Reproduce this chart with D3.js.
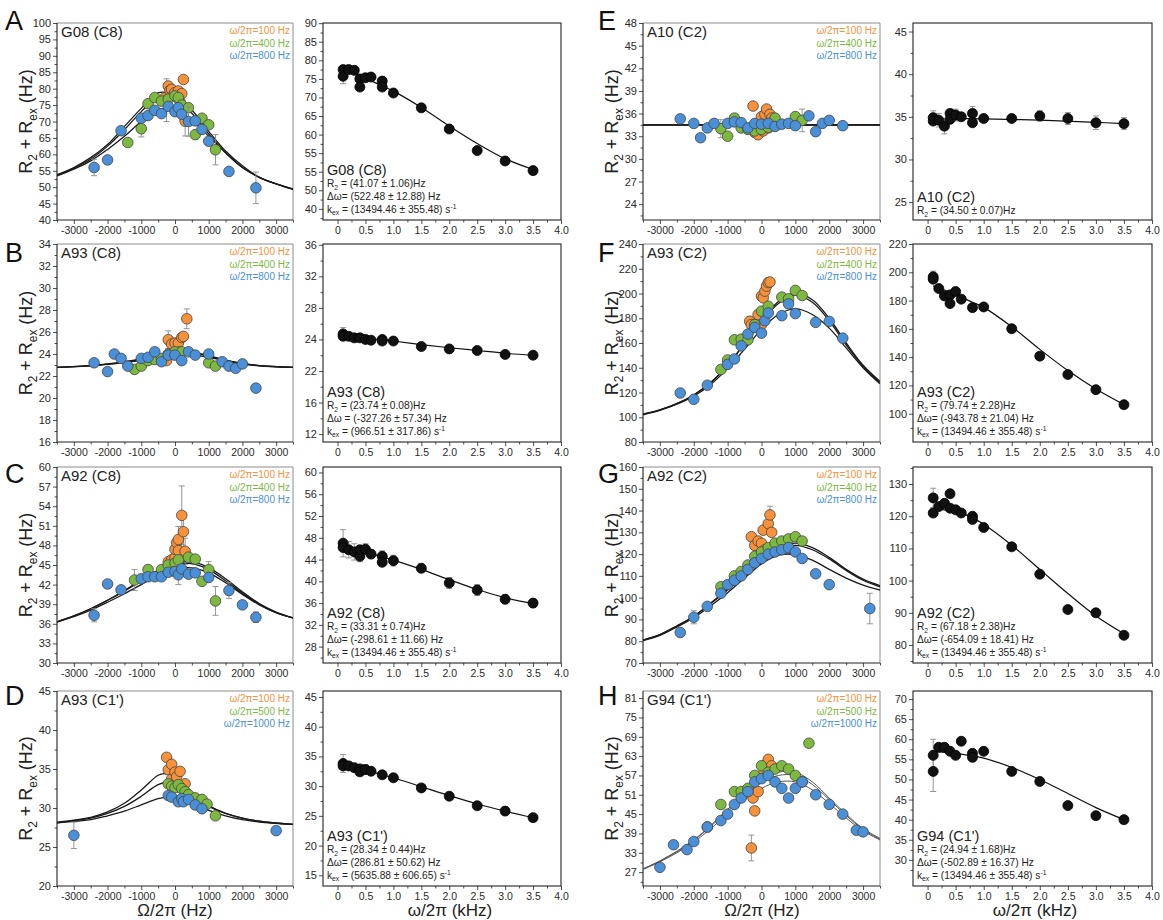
<!DOCTYPE html>
<html><head><meta charset="utf-8">
<script src="https://cdn.jsdelivr.net/npm/d3@7"></script>
<style>body{margin:0;background:#fff}svg{font-family:"Liberation Sans",Arial,sans-serif}</style>
</head><body><svg id="c" width="1163" height="920"></svg>
<script>
// ---------------- DATA ----------------
const legA = ['ω/2π=100 Hz','ω/2π=400 Hz','ω/2π=800 Hz'];
const legD = ['ω/2π=100 Hz','ω/2π=500 Hz','ω/2π=1000 Hz'];
const offsetTicks = [-3000,-2000,-1000,0,1000,2000,3000];
const powerTicks = [0,0.5,1.0,1.5,2.0,2.5,3.0,3.5,4.0];

// Panel A  G08 (C8)
const aOrange=[[-300,77.2],[-250,76.5,6.5],[-200,80.8],[-150,79.5],[-100,79.8],[-50,78.0],[0,78.8],[50,77.5],[100,79.3],[150,76.0],[200,78.5],[250,82.8],[300,70.1,4.5]];
const aGreen=[[-1400,63.6],[-1000,67.8,2.5],[-800,75.4],[-600,77.3],[-400,76.2],[-200,76.8],[0,77.8],[100,77.3],[200,75.0],[400,74.2],[600,66.0],[800,71.0],[1000,69.0],[1200,61.4,4.6]];
const aBlue=[[-2400,56.0,2.5],[-2000,58.3],[-1600,67.2],[-1000,71.0],[-800,71.8],[-600,73.4],[-400,72.4],[-200,74.6],[0,73.0],[100,74.2],[200,72.2],[400,70.0,4.5],[600,70.2],[800,67.6],[1000,64.0],[1600,54.8],[2400,49.8,4.8]];
const aFit1=[[-3500,53.8],[-3000,56.0],[-2500,59.0],[-2000,63.0],[-1500,68.5],[-1000,74.0],[-500,78.7],[0,78.0],[500,73.5],[1000,67.0],[1500,61.0],[2000,56.5],[2500,53.0],[3000,51.0],[3500,49.5]];
const aFit2=[[-3500,53.6],[-3000,55.8],[-2500,58.5],[-2000,62.5],[-1500,67.5],[-1000,73.0],[-500,77.5],[0,77.0],[500,72.5],[1000,66.2],[1500,60.5],[2000,56.0],[2500,53.0],[3000,51.0],[3500,49.4]];
const aFit3=[[-3500,53.4],[-3000,55.5],[-2500,58.0],[-2000,61.5],[-1500,65.5],[-1000,70.0],[-500,73.5],[-300,74.0],[0,73.5],[500,70.5],[1000,65.5],[1500,60.5],[2000,56.0],[2500,53.0],[3000,51.0],[3500,49.3]];
const aDisp=[[0.1,77.5],[0.1,75.7,2],[0.2,77.5],[0.3,77.3],[0.4,75.0],[0.4,72.8],[0.5,75.3],[0.6,75.5],[0.8,74.4],[0.8,72.8],[1.0,71.2],[1.5,67.2],[2.0,61.5],[2.5,55.7],[3.0,52.9],[3.5,50.3]];
const aDispFit=[[0.1,77.8],[0.25,77.0],[0.4,75.9],[0.6,74.5],[0.8,73.1],[1.0,71.7],[1.5,67.3],[2.0,62.3],[2.5,57.6],[3.0,53.5],[3.5,50.6]];
const aLeftTicks=[40,45,50,55,60,65,70,75,80,85,90,95,100];
const aRightTicks=[40,45,50,55,60,65,70,75,80,85,90];
const aRightTickLabels=['40','50','55','55','60','65','70','75','80','85','90'];
const aText=['G08 (C8)','R_{2} = (41.07 ± 1.06)Hz','Δω= (522.48 ± 12.88) Hz','k_{ex} = (13494.46 ± 355.48) s^{-1}'];

// Panel B  A93 (C8)
const bOrange=[[-250,23.4],[-200,25.3,0.8],[-100,24.9],[0,25.0],[100,25.0],[150,24.2],[200,25.5],[250,25.6],[350,27.2,0.9]];
const bGreen=[[-1200,22.6],[-1000,22.9],[-800,23.4],[-600,23.5],[-400,23.6],[-200,24.0],[0,24.2],[200,24.2],[1000,23.2],[1200,22.9]];
const bBlue=[[-2400,23.2],[-2000,22.4],[-1800,24.0],[-1600,23.6],[-1400,22.9],[-1000,23.6],[-800,23.7],[-600,24.2],[-400,23.3],[-200,23.9],[0,23.9],[200,23.4],[400,24.2],[600,23.9],[1000,24.0],[1400,23.3],[1600,22.9],[1800,22.7],[2000,23.1],[2400,20.9]];
const bFit1=[[-3500,22.78],[-2500,22.95],[-2000,23.1],[-1500,23.3],[-1000,23.55],[-500,23.85],[0,24.15],[250,24.25],[500,24.2],[1000,23.85],[1500,23.45],[2000,23.15],[2500,22.95],[3500,22.78]];
const bFit2=[[-3500,22.78],[-2500,22.94],[-2000,23.08],[-1500,23.27],[-1000,23.5],[-500,23.8],[0,24.07],[250,24.15],[500,24.1],[1000,23.8],[1500,23.42],[2000,23.13],[2500,22.94],[3500,22.78]];
const bFit3=[[-3500,22.78],[-2500,22.92],[-2000,23.05],[-1500,23.22],[-1000,23.42],[-500,23.68],[0,23.92],[250,23.98],[500,23.95],[1000,23.7],[1500,23.37],[2000,23.1],[2500,22.93],[3500,22.78]];
const bDisp=[[0.1,24.7,0.8],[0.1,24.4],[0.2,24.4],[0.3,24.2],[0.4,24.2],[0.5,24.0],[0.6,23.9],[0.8,24.0],[0.8,23.8],[1.0,23.8],[1.5,23.1],[2.0,22.8],[2.5,22.6],[3.0,22.1],[3.5,22.0]];
const bDispFit=[[0.1,24.6],[0.3,24.35],[0.5,24.15],[0.8,23.95],[1.0,23.8],[1.5,23.35],[2.0,22.95],[2.5,22.6],[3.0,22.25],[3.5,22.0]];
const bLeftTicks=[16,18,20,22,24,26,28,30,32,34];
const bRightTicks=[12,16,20,24,28,32,36];
const bRightTickLabels=['12','16','22','24','28','32','36'];
const bText=['A93 (C8)','R_{2} = (23.74 ± 0.08)Hz','Δω = (-327.26 ± 57.34) Hz','k_{ex} = (966.51 ± 317.86) s^{-1}'];

// Panel C  A92 (C8)
const cOrange=[[-200,45.5],[-100,45.8],[0,46.1],[0,47.4],[50,48.4],[100,48.9,2],[100,47.2],[200,52.6,4.5],[250,50.1,3],[300,47.1,2]];
const cGreen=[[-1200,42.7,1.6],[-800,44.3],[-400,44.3],[-200,45.0],[0,45.3],[100,45.8],[400,46.2],[600,45.9],[800,42.5],[1000,44.3,1.2],[1200,39.5,2.2]];
const cBlue=[[-2400,37.3,1],[-2000,42.1],[-1600,41.2],[-1000,42.9],[-800,43.2],[-600,43.2],[-400,43.2],[-200,43.9],[0,44.0],[100,43.5,1.5],[200,44.4],[400,43.6],[600,43.8],[1000,43.1],[1600,41.1,1.2],[2000,38.9],[2400,37.0,0.8]];
const cFit1=[[-3500,36.3],[-3000,37.2],[-2500,38.3],[-2000,39.6],[-1500,41.1],[-1000,42.7],[-500,44.2],[0,45.2],[300,45.5],[600,45.4],[1000,44.6],[1500,42.9],[2000,40.9],[2500,39.1],[3000,37.8],[3500,36.9]];
const cFit2=[[-3500,36.3],[-3000,37.2],[-2500,38.3],[-2000,39.6],[-1500,41.0],[-1000,42.6],[-500,44.0],[0,45.0],[300,45.25],[600,45.1],[1000,44.3],[1500,42.6],[2000,40.7],[2500,39.0],[3000,37.7],[3500,36.9]];
const cFit3=[[-3500,36.3],[-3000,37.1],[-2500,38.1],[-2000,39.3],[-1500,40.6],[-1000,42.0],[-500,43.4],[0,44.3],[300,44.6],[600,44.5],[1000,43.8],[1500,42.3],[2000,40.5],[2500,38.9],[3000,37.7],[3500,36.9]];
const cDisp=[[0.1,47.0,2.5],[0.1,46.2],[0.2,45.8,1.5],[0.3,45.4,1.5],[0.4,44.6,1],[0.4,45.8],[0.5,45.9,1],[0.6,45.0],[0.8,44.6,1],[0.8,43.5],[1.0,43.8,1],[1.5,42.4,0.8],[2.0,39.7,1],[2.5,38.4,1],[3.0,36.7,0.8],[3.5,36.0,0.8]];
const cDispFit=[[0.1,46.6],[0.3,46.0],[0.5,45.4],[0.8,44.5],[1.0,43.9],[1.5,42.2],[2.0,40.3],[2.5,38.5],[3.0,37.0],[3.5,35.9]];
const cLeftTicks=[30,33,36,39,42,45,48,51,54,57,60];
const cRightTicks=[28,32,36,40,44,48,52,56,60];
const cText=['A92 (C8)','R_{2} = (33.31 ± 0.74)Hz','Δω= (-298.61 ± 11.66) Hz','k_{ex} = (13494.46 ± 355.48) s^{-1}'];

// Panel D  A93 (C1')
const dOrange=[[-250,36.5],[-200,34.9],[-100,35.6],[-100,33.7],[0,34.6],[50,34.0],[150,34.7],[300,33.1]];
const dGreen=[[-200,33.1],[-100,32.8],[0,32.6],[100,33.0],[200,32.5],[300,32.1],[400,31.7],[600,31.3],[800,31.1],[950,30.5],[1200,29.0]];
const dBlue=[[-3000,26.5,1.7],[-200,31.6],[-100,31.4],[100,30.8],[200,31.2],[250,30.8],[400,31.1],[600,30.4],[800,29.9],[3000,27.1,0.3]];
const dFit1=[[-3500,28.2],[-2500,28.8],[-2000,29.5],[-1500,30.6],[-1000,32.3],[-500,34.2],[-300,34.4],[0,33.9],[500,31.8],[1000,30.3],[1500,29.3],[2000,28.7],[2500,28.3],[3500,27.9]];
const dFit2=[[-3500,28.1],[-2500,28.7],[-2000,29.3],[-1500,30.2],[-1000,31.5],[-500,33.0],[-200,33.3],[0,33.1],[500,31.6],[1000,30.2],[1500,29.3],[2000,28.7],[2500,28.3],[3500,27.9]];
const dFit3=[[-3500,28.1],[-2500,28.5],[-2000,29.0],[-1500,29.6],[-1000,30.4],[-500,31.2],[-200,31.4],[0,31.3],[500,30.6],[1000,29.7],[1500,29.0],[2000,28.5],[2500,28.2],[3500,27.9]];
const dDisp=[[0.1,33.8,1.5],[0.1,33.4],[0.2,33.4],[0.3,33.1],[0.4,32.9],[0.4,32.4],[0.5,32.8,0.8],[0.6,32.5],[0.8,31.9],[1.0,31.4],[1.5,29.7],[2.0,28.3],[2.5,26.7],[3.0,25.8],[3.5,24.7]];
const dDispFit=[[0.1,33.6],[0.3,33.2],[0.5,32.7],[0.8,31.9],[1.0,31.4],[1.5,29.9],[2.0,28.4],[2.5,27.0],[3.0,25.8],[3.5,24.7]];
const dLeftTicks=[20,25,30,35,40,45];
const dRightTicks=[15,20,25,30,35,40,45];
const dText=["A93 (C1')",'R_{2} = (28.34 ± 0.44)Hz','Δω= (286.81 ± 50.62) Hz','k_{ex} = (5635.88 ± 606.65) s^{-1}'];

// Panel E  A10 (C2)
const eOrange=[[-250,37.0],[-200,33.5],[-100,33.2],[0,35.6],[50,33.7],[100,35.9],[150,36.6],[200,34.1],[250,35.9],[300,35.4]];
const eGreen=[[-1200,34.0,1.2],[-1000,33.0],[-800,35.4],[-600,34.1],[-400,33.9],[-200,33.7],[0,33.9],[200,34.2],[400,35.4],[1000,35.6],[1200,35.1,1.5]];
const eBlue=[[-2400,35.3],[-2000,34.7],[-1800,32.8],[-1600,34.1],[-1400,34.7],[-1000,34.7],[-800,34.9],[-600,34.8],[-400,34.1],[-200,34.7],[0,34.6],[200,34.7],[400,34.3],[600,34.6],[800,34.7],[1000,34.4],[1400,35.7],[1600,33.6],[1800,34.7],[2000,35.1],[2400,34.4]];
const eFit1=[[-3500,34.5],[3500,34.5]];
const eFit2=[[-3500,34.5],[3500,34.5]];
const eFit3=[[-3500,34.48],[3500,34.48]];
const eDisp=[[0.1,34.9,0.8],[0.1,34.5],[0.2,34.6,0.8],[0.3,33.9,0.9],[0.4,35.4],[0.4,34.7],[0.5,35.2,0.7],[0.6,35.0],[0.8,35.4,0.8],[0.8,34.3],[1.0,34.8],[1.5,34.8],[2.0,35.1,0.6],[2.5,34.8,0.7],[3.0,34.3,0.8],[3.5,34.2,0.7]];
const eDispFit=[[0.1,34.8],[1.0,34.75],[2.0,34.6],[3.0,34.35],[3.5,34.2]];
const eLeftTicks=[24,27,30,33,36,39,42,45,48];
const eRightTicks=[25,30,35,40,45];
const eText=['A10 (C2)','R_{2} = (34.50 ± 0.07)Hz'];

// Panel F  A93 (C2)
const fOrange=[[-350,177.5,4],[-300,174.8],[-200,173.4],[-100,183],[0,197.9],[0,174.8],[50,196.5],[100,201.9],[150,206.0],[200,208.8],[250,209.3,3]];
const fGreen=[[-1200,138.6],[-1000,146.3],[-800,162.6],[-600,163.1],[-400,162.6],[-200,174.8],[0,185.7],[200,189.7],[600,197.1],[800,195.7],[1000,202.5],[1200,198.4]];
const fBlue=[[-2400,119.6],[-2000,114.5],[-1600,125.9],[-1000,142.7],[-800,147.1],[-600,157.7],[-400,167.2],[-200,172.6],[0,168.0],[100,178],[200,184.3],[600,182.1],[800,191.6],[1000,183.8],[1600,176.7],[2000,177.5],[2400,163.9]];
const fFit1=[[-3500,102.5],[-3000,106],[-2500,111],[-2000,118],[-1500,128],[-1000,142],[-500,160],[0,178],[500,193.5],[1000,200.5],[1500,195],[2000,180],[2500,160],[3000,142],[3500,129]];
const fFit2=[[-3500,102.5],[-3000,106],[-2500,111],[-2000,118],[-1500,128],[-1000,142],[-500,159.5],[0,177],[500,192],[1000,198.5],[1500,193],[2000,178],[2500,158.5],[3000,141],[3500,128]];
const fFit3=[[-3500,102],[-3000,105.5],[-2500,110.5],[-2000,117],[-1500,126.5],[-1000,139.5],[-500,155],[0,171],[500,183],[1000,187.5],[1500,183],[2000,172],[2500,156],[3000,140],[3500,127]];
const fDisp=[[0.1,196.8,4],[0.1,195.1],[0.2,188.5],[0.3,183.3],[0.4,184],[0.4,177.9,3],[0.5,186.4,2],[0.6,181],[0.8,175.0],[1.0,175.5],[1.5,160.1],[2.0,140.7,2],[2.5,127.7],[3.0,117.0],[3.5,106.4]];
const fDispFit=[[0.1,190.4],[0.3,187.5],[0.5,184.2],[0.8,178.8],[1.0,175.2],[1.5,161.5],[2.0,145.5],[2.5,130.5],[3.0,117.5],[3.5,106.5]];
const fLeftTicks=[80,100,120,140,160,180,200,220,240];
const fRightTicks=[100,120,140,160,180,200,220];
const fText=['A93 (C2)','R_{2} = (79.74 ± 2.28)Hz','Δω= (-943.78 ± 21.04) Hz','k_{ex} = (13494.46 ± 355.48) s^{-1}'];

// Panel G  A92 (C2)
const gOrange=[[-300,128],[-200,124],[-100,126],[0,125],[50,131],[100,122],[200,134],[250,138,4],[300,130]];
const gGreen=[[-1200,105],[-800,110],[-600,112],[-400,115],[-200,119],[0,121],[200,123],[400,125],[600,126],[800,127],[1000,128],[1200,126]];
const gBlue=[[-2400,84],[-2000,91,3],[-1600,96],[-1200,102],[-1000,106],[-800,108],[-600,110],[-400,113],[-200,116],[0,118],[200,120],[400,121],[600,122],[800,123],[1000,121],[1200,118],[1600,111],[2000,106],[3200,95,7]];
const gFit1=[[-3500,80.5],[-3000,83],[-2500,87],[-2000,91.5],[-1500,97.5],[-1000,104],[-500,111],[0,118],[500,123],[1000,125],[1500,123],[2000,118.5],[2500,113],[3000,108.5],[3500,105.5]];
const gFit2=[[-3500,80.5],[-3000,83],[-2500,87],[-2000,91.5],[-1500,97.3],[-1000,103.5],[-500,110.5],[0,117.3],[500,122.2],[1000,124],[1500,122],[2000,117.8],[2500,112.5],[3000,108],[3500,105]];
const gFit3=[[-3500,80.3],[-3000,82.7],[-2500,86.5],[-2000,90.8],[-1500,96.3],[-1000,102.3],[-500,109],[0,115.5],[500,119.5],[1000,119.8],[1500,117.2],[2000,113],[2500,109],[3000,105.8],[3500,103.5]];
const gDisp=[[0.1,125.7,3],[0.1,121],[0.2,123],[0.3,124],[0.4,127],[0.4,122.5],[0.5,122],[0.6,121],[0.8,120],[0.8,119],[1.0,116.5],[1.5,110.5],[2.0,102],[2.5,91],[3.0,90],[3.5,83]];
const gDispFit=[[0.1,122.5],[0.3,122],[0.5,121.5],[0.8,119.5],[1.0,117.5],[1.5,111],[2.0,103.5],[2.5,96],[3.0,89],[3.5,83.5]];
const gLeftTicks=[70,80,90,100,110,120,130,140,150,160];
const gRightTicks=[80,90,100,110,120,130];
const gText=['A92 (C2)','R_{2} = (67.18 ± 2.38)Hz','Δω= (-654.09 ± 18.41) Hz','k_{ex} = (13494.46 ± 355.48) s^{-1}'];

// Panel H  G94 (C1')
const hOrange=[[-300,34.5,4],[-250,50],[-200,46],[-100,52],[0,57],[100,60],[200,62],[300,60]];
const hGreen=[[-1600,41],[-1200,48],[-800,52],[-600,52],[-400,53],[-200,57],[0,60],[200,58],[400,59],[600,60],[800,59],[1000,57],[1200,55],[1400,67]];
const hBlue=[[-3000,28.5],[-2600,35.5],[-2200,34],[-2000,36.5],[-1600,41],[-1200,43],[-1000,45],[-800,48],[-600,50],[-400,52],[-200,55],[0,56],[200,57],[400,55],[600,53],[800,50],[1000,53],[1200,55],[1600,51],[2000,48],[2400,45],[2800,40],[3000,39.5]];
const hFit1=[[-3500,28],[-3000,30.5],[-2500,33.5],[-2000,37],[-1500,41.5],[-1000,46.5],[-500,51.5],[0,55.5],[500,58],[1000,58],[1500,55],[2000,50],[2500,45],[3000,40.5],[3500,37.5]];
const hFit2=[[-3500,28],[-3000,30.4],[-2500,33.3],[-2000,36.8],[-1500,41.2],[-1000,46],[-500,51],[0,54.8],[500,57],[1000,57],[1500,54.2],[2000,49.5],[2500,44.6],[3000,40.2],[3500,37.2]];
const hFit3=[[-3500,27.8],[-3000,30.2],[-2500,33],[-2000,36.3],[-1500,40.5],[-1000,45],[-500,49.5],[0,53],[500,55],[1000,55],[1500,52.5],[2000,48.3],[2500,43.8],[3000,39.8],[3500,37]];
const hDisp=[[0.1,56,4],[0.1,52,5],[0.2,58],[0.3,58],[0.4,57],[0.5,56],[0.6,59.5],[0.8,56.5],[0.8,55.5],[1.0,57],[1.5,52],[2.0,49.5],[2.5,43.5],[3.0,41],[3.5,40]];
const hDispFit=[[0.1,57],[0.5,56.5],[1.0,55.3],[1.5,53],[2.0,50],[2.5,46.5],[3.0,43],[3.5,40]];
const hLeftTicks=[27,33,39,45,51,57,63,69,75,81];
const hRightTicks=[30,35,40,45,50,55,60,65,70];
const hText=["G94 (C1')",'R_{2} = (24.94 ± 1.68)Hz','Δω= (-502.89 ± 16.37) Hz','k_{ex} = (13494.46 ± 355.48) s^{-1}'];

// ---------------- LAYOUT / STYLE ----------------
const COLORS=['#f7923a','#7db93e','#4a90d9'];
const groups=[{lx:[57,293],rx:[323,561],letterX:5,titleX:32,xt1:175,xt2:450},
              {lx:[643,880],rx:[913,1152],letterX:598,titleX:618,xt1:762,xt2:1035}];
const rowsY=[[23,220],[244,442],[467,663],[691,886]];
const letterY=[30,262,483,705];

const panels=[
 {L:'A',g:0,r:0,leg:legA,ld:[40,100],lt:aLeftTicks,s:[aOrange,aGreen,aBlue],fits:[aFit1,aFit2,aFit3],rd:[37,90.05],rt:aRightTicks,rtl:aRightTickLabels,disp:aDisp,dfit:aDispFit,txt:aText},
 {L:'B',g:0,r:1,leg:legA,ld:[16,34],lt:bLeftTicks,s:[bOrange,bGreen,bBlue],fits:[bFit1,bFit2,bFit3],rd:[11,36.1],rt:bRightTicks,rtl:bRightTickLabels,disp:bDisp,dfit:bDispFit,txt:bText},
 {L:'C',g:0,r:2,leg:legA,ld:[30,60],lt:cLeftTicks,s:[cOrange,cGreen,cBlue],fits:[cFit1,cFit2,cFit3],rd:[25,61],rt:cRightTicks,disp:cDisp,dfit:cDispFit,txt:cText},
 {L:'D',g:0,r:3,leg:legD,ld:[20,45],lt:dLeftTicks,s:[dOrange,dGreen,dBlue],fits:[dFit1,dFit2,dFit3],rd:[13.2,46],rt:dRightTicks,disp:dDisp,dfit:dDispFit,txt:dText},
 {L:'E',g:1,r:0,leg:legA,ld:[21.9,48],lt:eLeftTicks,s:[eOrange,eGreen,eBlue],fits:[eFit1,eFit2,eFit3],rd:[22.9,46],rt:eRightTicks,disp:eDisp,dfit:eDispFit,txt:eText},
 {L:'F',g:1,r:1,leg:legA,ld:[80,240],lt:fLeftTicks,s:[fOrange,fGreen,fBlue],fits:[fFit1,fFit2,fFit3],rd:[80,220],rt:fRightTicks,disp:fDisp,dfit:fDispFit,txt:fText},
 {L:'G',g:1,r:2,leg:legA,ld:[70,160],lt:gLeftTicks,s:[gOrange,gGreen,gBlue],fits:[gFit1,gFit2,gFit3],rd:[74.4,135.3],rt:gRightTicks,disp:gDisp,dfit:gDispFit,txt:gText},
 {L:'H',g:1,r:3,leg:legD,ld:[22.7,83.2],lt:hLeftTicks,s:[hOrange,hGreen,hBlue],fits:[hFit1,hFit2,hFit3],rd:[23.5,72],rt:hRightTicks,disp:hDisp,dfit:hDispFit,txt:hText,thin:true}
];

const svg=d3.select('#c');
let clipId=0;

function rich(t,str,fs){
  const re=/(_\{[^}]*\}|\^\{[^}]*\})/g; const parts=[]; let last=0,m;
  while((m=re.exec(str))){ if(m.index>last) parts.push([str.slice(last,m.index),'n']); parts.push([m[0].slice(2,-1),m[0][0]==='_'?'sub':'sup']); last=re.lastIndex; }
  if(last<str.length) parts.push([str.slice(last),'n']);
  let cur=0;
  parts.forEach(([s,mode])=>{
    const tgt=mode==='sub'?fs*0.28:mode==='sup'?-fs*0.38:0;
    t.append('tspan').attr('dy',tgt-cur).attr('font-size',mode==='n'?fs:fs*0.66).text(s);
    cur=tgt;
  });
}

function minorTicks(ticks,dom){
  const step=ticks[1]-ticks[0], out=[];
  for(let v=ticks[0]-step/2; v<=dom[1]+1e-9; v+=step){ if(v>=dom[0]-1e-9 && !ticks.some(t=>Math.abs(t-v)<1e-9)) out.push(v); }
  return out;
}

function styleAxis(sel,fs){
  sel.select('.domain').remove();
  sel.selectAll('.tick line').attr('stroke','#222').attr('stroke-width',0.8);
  sel.selectAll('.tick text').attr('fill','#2a2a2a').attr('font-size',fs).attr('font-family','"Liberation Sans",Arial,sans-serif');
}

function clip(x0,y0,w,h){
  const id='cl'+(clipId++);
  svg.append('clipPath').attr('id',id).append('rect').attr('x',x0).attr('y',y0).attr('width',w).attr('height',h);
  return 'url(#'+id+')';
}

function drawPoints(g,x,y,data,fill,stroke,r){
  const eb=data.filter(d=>d[2]);
  g.selectAll(null).data(eb).join('path')
    .attr('d',d=>{const X=x(d[0]),a=y(d[1]+d[2]),b=y(d[1]-d[2]);return `M${X},${a}V${b}M${X-3},${a}H${X+3}M${X-3},${b}H${X+3}`;})
    .attr('stroke','#8a8a8a').attr('stroke-width',0.9).attr('fill','none');
  g.selectAll(null).data(data).join('circle')
    .attr('cx',d=>x(d[0])).attr('cy',d=>y(d[1])).attr('r',r)
    .attr('fill',fill).attr('stroke',stroke).attr('stroke-width',0.8);
}

panels.forEach(p=>{
  const G=groups[p.g], [top,bot]=rowsY[p.r];
  const [lx0,lx1]=G.lx;
  const x=d3.scaleLinear().domain([-3500,3500]).range([lx0,lx1]);
  const y=d3.scaleLinear().domain(p.ld).range([bot,top]);
  const gL=svg.append('g');
  gL.append('path').attr('d',`M${lx0},${top}H${lx1}V${bot}`).attr('fill','none').attr('stroke','#8c8c8c').attr('stroke-width',1);
  const ya=gL.append('g').attr('transform',`translate(${lx0},0)`).call(d3.axisLeft(y).tickValues(p.lt).tickSize(4).tickPadding(2).tickFormat(d=>String(d)));
  styleAxis(ya,11);
  gL.append('g').attr('transform',`translate(${lx0},0)`).call(d3.axisLeft(y).tickValues(minorTicks(p.lt,p.ld)).tickSize(2.5).tickFormat('')).call(s=>styleAxis(s,11));
  const xa=gL.append('g').attr('transform',`translate(0,${bot})`).call(d3.axisBottom(x).tickValues(offsetTicks).tickSize(4).tickPadding(3).tickFormat(d=>String(d)));
  styleAxis(xa,10.5);
  gL.append('g').attr('transform',`translate(0,${bot})`).call(d3.axisBottom(x).tickValues([-3500,-2500,-1500,-500,500,1500,2500,3500]).tickSize(2.5).tickFormat('')).call(s=>styleAxis(s,10));
  gL.append('path').attr('d',`M${lx0},${top}V${bot}H${lx1}`).attr('fill','none').attr('stroke','#222').attr('stroke-width',1.1);
  const cpL=clip(lx0,top,lx1-lx0,bot-top);
  const lineL=d3.line().x(d=>x(d[0])).y(d=>y(d[1])).curve(d3.curveCatmullRom);
  const gc=gL.append('g').attr('clip-path',cpL);
  p.fits.forEach(f=>gc.append('path').attr('d',lineL(f)).attr('fill','none').attr('stroke',p.thin?'#555':'#1a1a1a').attr('stroke-width',p.thin?1:1.3));
  [0,1,2].forEach(i=>drawPoints(gc,x,y,p.s[i],COLORS[i],'#444',5.3));
  gL.append('text').attr('x',lx0+4).attr('y',top+14).attr('font-size',15).attr('fill','#222').text(p.txt[0]);
  p.leg.forEach((t,i)=>gL.append('text').attr('x',lx1-3).attr('y',top+11+i*12.5).attr('text-anchor','end').attr('font-size',10).attr('fill',COLORS[i]).text(t));
  const yt=gL.append('text').attr('transform',`translate(${G.titleX},${(top+bot)/2}) rotate(-90)`).attr('text-anchor','middle').attr('fill','#222');
  rich(yt,'R_{2} + R_{ex}  (Hz)',18);
  gL.append('text').attr('x',G.letterX).attr('y',letterY[p.r]).attr('font-size',27).attr('fill','#111').text(p.L);

  const [rx0,rx1]=G.rx;
  const xr=d3.scaleLinear().domain([-0.26,4.0]).range([rx0,rx1]);
  const yr=d3.scaleLinear().domain(p.rd).range([bot,top]);
  const gR=svg.append('g');
  const ra=gR.append('g').attr('transform',`translate(${rx0},0)`).call(d3.axisLeft(yr).tickValues(p.rt).tickSize(4).tickPadding(2).tickFormat((d,i)=>p.rtl?p.rtl[i]:String(d)));
  styleAxis(ra,11);
  gR.append('g').attr('transform',`translate(${rx0},0)`).call(d3.axisLeft(yr).tickValues(minorTicks(p.rt,p.rd)).tickSize(2.5).tickFormat('')).call(s=>styleAxis(s,11));
  const rxa=gR.append('g').attr('transform',`translate(0,${bot})`).call(d3.axisBottom(xr).tickValues(powerTicks).tickSize(4).tickPadding(3).tickFormat(d=>d===0?'0':d.toFixed(1)));
  styleAxis(rxa,10.5);
  gR.append('g').attr('transform',`translate(0,${bot})`).call(d3.axisBottom(xr).tickValues([0.25,0.75,1.25,1.75,2.25,2.75,3.25,3.75]).tickSize(2.5).tickFormat('')).call(s=>styleAxis(s,10));
  gR.append('rect').attr('x',rx0).attr('y',top).attr('width',rx1-rx0).attr('height',bot-top).attr('fill','none').attr('stroke','#222').attr('stroke-width',1.1);
  const cpR=clip(rx0,top,rx1-rx0,bot-top);
  const gr=gR.append('g').attr('clip-path',cpR);
  const lineR=d3.line().x(d=>xr(d[0])).y(d=>yr(d[1])).curve(d3.curveCatmullRom);
  gr.append('path').attr('d',lineR(p.dfit)).attr('fill','none').attr('stroke','#111').attr('stroke-width',1.2);
  drawPoints(gr,xr,yr,p.disp,'#111','#000',5);
  const n=p.txt.length;
  const base = n===2 ? [bot-18,bot-6] : [bot-45,bot-33,bot-20.5,bot-7.5];
  p.txt.forEach((t,i)=>{
    const tt=gR.append('text').attr('x',rx0+4).attr('y',base[i]).attr('fill','#222');
    if(i===0) tt.attr('font-size',14.5).text(t); else rich(tt,t,10.2);
  });
});

groups.forEach(G=>{
  svg.append('text').attr('x',G.xt1).attr('y',916).attr('text-anchor','middle').attr('font-size',17).attr('fill','#222').text('Ω/2π (Hz)');
  svg.append('text').attr('x',G.xt2).attr('y',916).attr('text-anchor','middle').attr('font-size',17).attr('fill','#222').text('ω/2π (kHz)');
});
</script>
</body></html>
